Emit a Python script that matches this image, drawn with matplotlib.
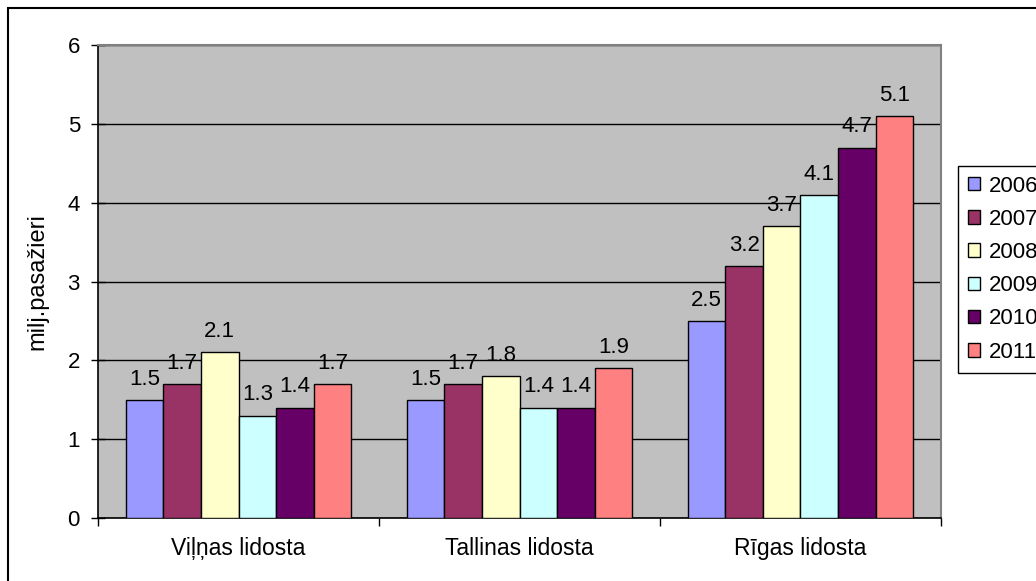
import numpy as np
import matplotlib
matplotlib.use("Agg")
import matplotlib.pyplot as plt
from matplotlib.patches import Rectangle

plt.rcParams['font.family'] = ['Liberation Sans', 'DejaVu Sans']

# airports and yearly passengers (millions)
airports = ["Viļņas lidosta", "Tallinas lidosta", "Rīgas lidosta"]
years = ["2006", "2007", "2008", "2009", "2010", "2011"]
v2006 = [1.5, 1.5, 2.5]
v2007 = [1.7, 1.7, 3.2]
v2008 = [2.1, 1.8, 3.7]
v2009 = [1.3, 1.4, 4.1]
v2010 = [1.4, 1.4, 4.7]
v2011 = [1.7, 1.9, 5.1]
series = [v2006, v2007, v2008, v2009, v2010, v2011]
colors = ["#9999FF", "#993366", "#FFFFCC", "#CCFFFF", "#660066", "#FF8080"]

fs = 16

fig = plt.figure(figsize=(10.36, 5.81), dpi=100)
ax = fig.add_axes([0.0946, 0.1084, 0.8137, 0.814])
ax.set_facecolor("#C0C0C0")

x = np.arange(len(airports))
w = 0.1335
for j, (vals, col, yr) in enumerate(zip(series, colors, years)):
    pos = x + (j - 2.5) * w
    ax.bar(pos, vals, w, color=col, edgecolor="black", linewidth=1, label=yr, zorder=3)
    for p, v in zip(pos, vals):
        ax.text(p, v + 0.13, f"{v:g}", ha="center", va="bottom", fontsize=fs, zorder=4)

ax.set_xlim(-0.5, 2.5)
ax.set_ylim(0, 6)
ax.set_yticks(range(0, 7))
ax.yaxis.grid(True, color="black", linewidth=1, zorder=1)
ax.set_axisbelow(True)

ax.set_xticks(x)
ax.set_xticklabels(airports, fontsize=16.5)
ax.tick_params(axis="x", which="major", length=0, pad=14)
ax.set_xticks([-0.5, 0.5, 1.5, 2.5], minor=True)
ax.tick_params(axis="x", which="minor", length=6, direction="out", width=1)
ax.tick_params(axis="y", direction="inout", length=10, width=1, labelsize=fs, pad=8)

ax.set_ylabel("milj.pasažieri", fontsize=17, labelpad=14)

for s in ["top", "right"]:
    ax.spines[s].set_color("#808080")
    ax.spines[s].set_linewidth(1.5)
for s in ["left", "bottom"]:
    ax.spines[s].set_color("black")
    ax.spines[s].set_linewidth(1.2)

# outer chart border
fig.patches.append(Rectangle((8 / 1036, -0.1), 1.2, 1 - 8 / 581 + 0.1, transform=fig.transFigure,
                             fill=False, edgecolor="black", linewidth=1.5))

leg = fig.legend(loc="upper left", bbox_to_anchor=(0.9247, 0.715), fontsize=fs,
                 handlelength=0.55, handleheight=0.55, handletextpad=0.4,
                 labelspacing=0.55, borderpad=0.45, borderaxespad=0,
                 fancybox=False, framealpha=1)
leg.get_frame().set_edgecolor("black")
leg.get_frame().set_linewidth(1)

plt.savefig("out.png", dpi=100)
